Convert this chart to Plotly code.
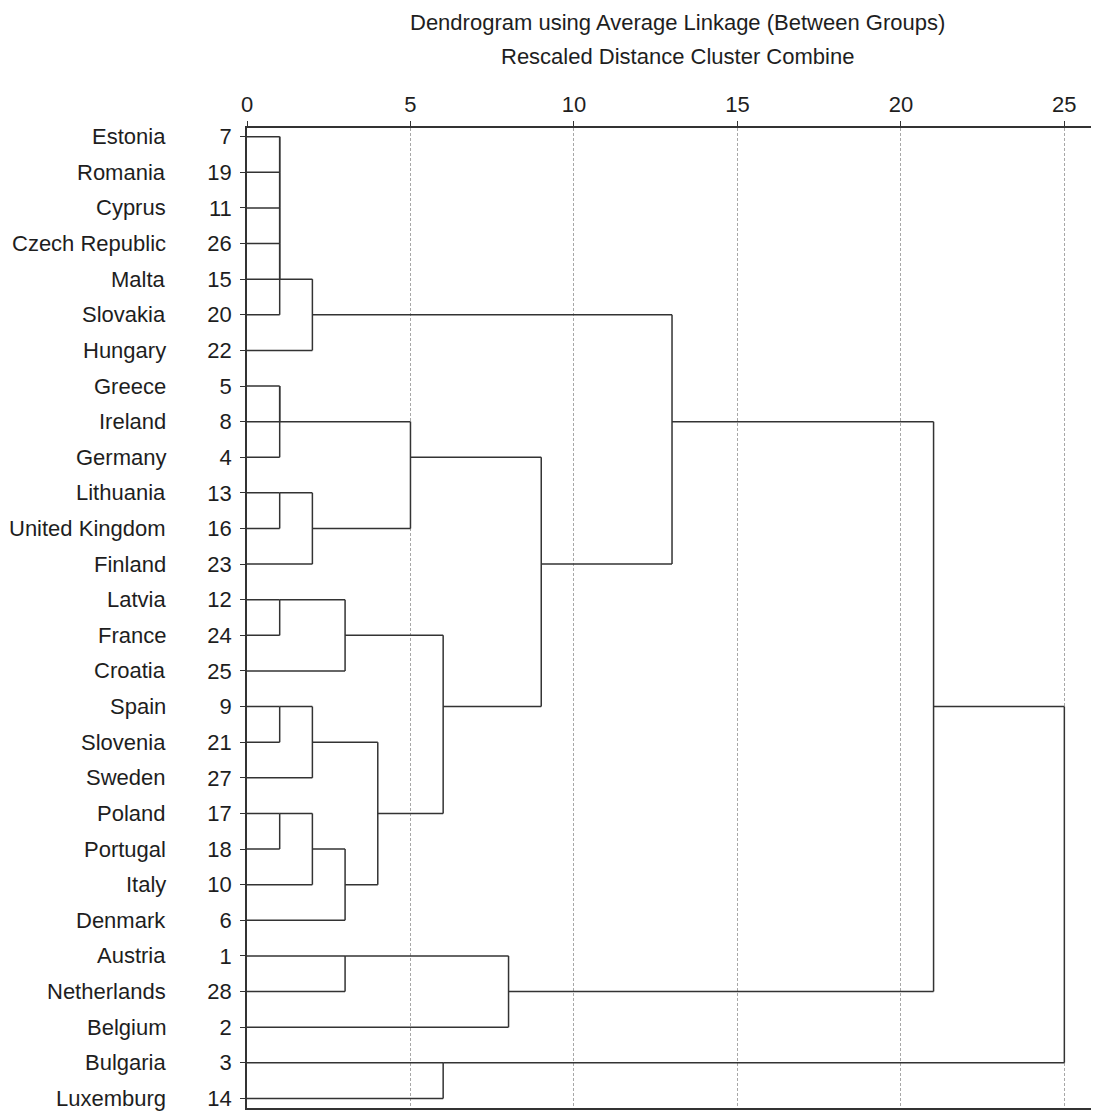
import plotly.graph_objects as go

# ---- data ----
countries = ["Estonia", "Romania", "Cyprus", "Czech Republic", "Malta", "Slovakia", "Hungary",
             "Greece", "Ireland", "Germany", "Lithuania", "United Kingdom", "Finland",
             "Latvia", "France", "Croatia", "Spain", "Slovenia", "Sweden", "Poland",
             "Portugal", "Italy", "Denmark", "Austria", "Netherlands", "Belgium",
             "Bulgaria", "Luxemburg"]
case_ids = [7, 19, 11, 26, 15, 20, 22, 5, 8, 4, 13, 16, 23, 12, 24, 25, 9, 21, 27, 17,
            18, 10, 6, 1, 28, 2, 3, 14]

# agglomeration steps: cluster named by its first (top) member, rescaled distance
merge_left = ["Estonia", "Estonia", "Estonia", "Estonia", "Estonia", "Estonia",
              "Greece", "Greece", "Lithuania", "Lithuania", "Greece",
              "Latvia", "Latvia", "Spain", "Spain", "Poland", "Poland", "Poland",
              "Spain", "Latvia", "Greece", "Estonia", "Austria", "Austria",
              "Estonia", "Bulgaria", "Estonia"]
merge_right = ["Romania", "Cyprus", "Czech Republic", "Malta", "Slovakia", "Hungary",
               "Ireland", "Germany", "United Kingdom", "Finland", "Lithuania",
               "France", "Croatia", "Slovenia", "Sweden", "Portugal", "Italy", "Denmark",
               "Poland", "Spain", "Latvia", "Greece", "Netherlands", "Belgium",
               "Austria", "Luxemburg", "Bulgaria"]
merge_dist = [1, 1, 1, 1, 1, 2, 1, 1, 1, 2, 5, 1, 3, 1, 2, 1, 2, 3, 4, 6, 9, 13, 3, 8,
              21, 6, 25]

x_ticks = [0, 5, 10, 15, 20, 25]
title1 = "Dendrogram using Average Linkage (Between Groups)"
title2 = "Rescaled Distance Cluster Combine"

# ---- build dendrogram segments (SPSS style) ----
row_of = {c: i for i, c in enumerate(countries)}
join_row = dict(row_of)
cur_dist = {c: 0 for c in countries}
xs, ys = [], []
for a, b, d in zip(merge_left, merge_right, merge_dist):
    ra, rb = join_row[a], join_row[b]
    xs += [cur_dist[a], d, None, cur_dist[b], d, None, d, d, None]
    ys += [ra, ra, None, rb, rb, None, ra, rb, None]
    join_row[a] = (ra + rb) // 2
    cur_dist[a] = d

FONT = "Liberation Sans, Arial, sans-serif"
LINE = "#333333"
TXT = "#1e1e1e"
FS = 22

fig = go.Figure()
fig.add_trace(go.Scatter(x=xs, y=ys, mode="lines",
                         line=dict(color=LINE, width=1.5),
                         hoverinfo="skip", showlegend=False))

# page body adds an 8px offset; figure sized to fill the rest of the window
OFF = 8
W, H = 1099 - OFF, 1111 - OFF
ml, mr, mt, mb = 247 - OFF, 0, 128 - OFF, H - (1108 - OFF)
pw = W - ml - mr
ph = H - mt - mb

fig.update_layout(
    width=W, height=H,
    margin=dict(l=ml, r=mr, t=mt, b=mb, pad=0),
    paper_bgcolor="white", plot_bgcolor="white",
    font=dict(family=FONT, size=FS, color=TXT),
    showlegend=False,
)
fig.update_xaxes(
    range=[0, 26.06], side="top",
    tickvals=x_ticks, ticktext=[str(v) for v in x_ticks],
    ticks="outside", ticklen=5, tickwidth=1, tickcolor=LINE,
    showline=True, linecolor=LINE, linewidth=1.5, mirror=True,
    showgrid=True, gridcolor="#a8a8a8", gridwidth=1, griddash="3px,2px",
    zeroline=False, tickfont=dict(size=FS, color=TXT, family=FONT),
)
fig.update_yaxes(
    range=[27.27, -0.244],
    tickvals=list(range(len(countries))), ticktext=[str(c) for c in case_ids],
    ticks="outside", ticklen=5, tickwidth=1, tickcolor=LINE,
    showline=True, linecolor=LINE, linewidth=1.5, mirror=False,
    showgrid=False, zeroline=False,
    tickfont=dict(size=FS, color=TXT, family=FONT),
    ticklabelstandoff=4, ticklabeloverflow="allow",
)

# country name labels (right edge at screen x≈166)
for i, c in enumerate(countries):
    fig.add_annotation(x=(168 - 247) / pw, xref="paper", y=i, yref="y",
                       text=c, showarrow=False, xanchor="right", yanchor="middle",
                       font=dict(size=FS, color=TXT, family=FONT))

# titles (positions in screen pixels)
def py(pix):
    return (1108 - pix) / ph

fig.add_annotation(x=(677 - 247) / pw, xref="paper", y=py(22), yref="paper",
                   text=title1, showarrow=False, xanchor="center", yanchor="middle",
                   font=dict(size=FS, color=TXT, family=FONT))
fig.add_annotation(x=(677 - 247) / pw, xref="paper", y=py(56), yref="paper",
                   text=title2, showarrow=False, xanchor="center", yanchor="middle",
                   font=dict(size=FS, color=TXT, family=FONT))

fig.write_html("out.html")
